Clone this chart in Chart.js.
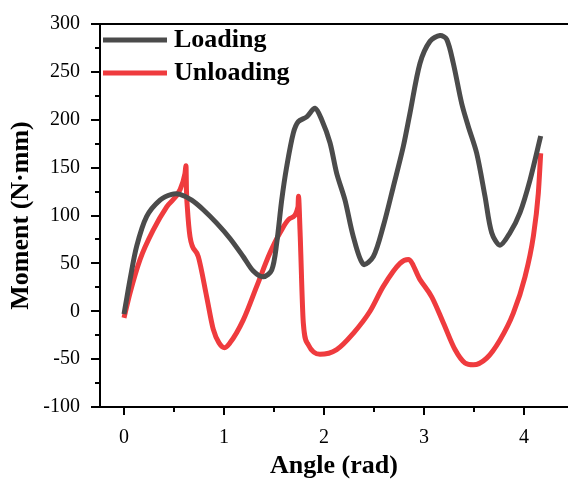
<!DOCTYPE html>
<html>
<head>
<meta charset="utf-8">
<script src="https://cdn.jsdelivr.net/npm/chart.js@4.4.1/dist/chart.umd.min.js"></script>
<style>
html,body{margin:0;padding:0;background:#fff;}
#wrap{width:568px;height:480px;position:relative;}
</style>
</head>
<body>
<div id="wrap"><canvas id="c" width="568" height="480"></canvas></div>
<script>
// ---- data ----
const loadingAngle  = [0,0.03,0.06,0.127,0.227,0.36,0.477,0.56,0.677,0.793,0.927,1.06,1.193,1.293,1.393,1.477,1.527,1.577,1.627,1.693,1.743,1.827,1.91,1.977,2.06,2.127,2.21,2.293,2.393,2.493,2.593,2.693,2.793,2.86,2.96,3.06,3.16,3.227,3.293,3.377,3.443,3.527,3.61,3.677,3.76,3.86,3.96,4.06,4.167];
const loadingMoment = [-3,15,33,68,99,116,122,122,116,106,92,76,57,42,36,43,71,116,151,186,198,203,212,200,176,144,116,78,49,57,89,130,172,207,259,282,288,284,259,217,193,165,120,82,69,82,103,137,183];
const unloadingAngle  = [0,0.06,0.16,0.293,0.427,0.56,0.61,0.62,0.625,0.633,0.66,0.743,0.827,0.893,0.95,1.007,1.06,1.193,1.327,1.46,1.56,1.66,1.74,1.745,1.76,1.793,1.843,1.96,2.127,2.293,2.46,2.593,2.76,2.843,2.96,3.077,3.193,3.31,3.41,3.493,3.627,3.76,3.893,4.01,4.093,4.143,4.167];
const unloadingMoment = [-7,19,54,85,109,127,144,152,125,109,78,57,15,-19,-33,-38,-33,-9,26,61,82,97,109,120,85,-12,-35,-45,-40,-23,0,26,50,54,33,15,-12,-40,-54,-56,-49,-30,-2,36,78,123,165];
const seriesLabels = ['Loading','Unloading'];
const xTicks = [0,1,2,3,4];
const xMinorTicks = [0.5,1.5,2.5,3.5];
const yTicks = [-100,-50,0,50,100,150,200,250,300];
const yMinorTicks = [-75,-25,25,75,125,175,225,275];
const xTitle = 'Angle (rad)';
const yTitle = 'Moment (N·mm)';

const COL_LOAD = '#4b4b4b';
const COL_UNLOAD = '#ef3b3e';
const SERIF = '"Liberation Serif","Times New Roman",serif';

const toPts = (xs, ys) => xs.map((x, i) => ({x, y: ys[i]}));

const ticksPlugin = {
  id: 'ticksAndFrame',
  afterDraw(chart) {
    const ctx = chart.ctx, xs = chart.scales.x, ys = chart.scales.y, a = chart.chartArea;
    ctx.save();
    ctx.strokeStyle = '#000';
    ctx.lineWidth = 2;
    ctx.lineCap = 'butt';
    ctx.beginPath(); ctx.moveTo(a.left - 1, a.top); ctx.lineTo(a.right, a.top); ctx.stroke();
    const xt = (vals, len) => vals.forEach(v => {
      const px = Math.round(xs.getPixelForValue(v));
      ctx.beginPath(); ctx.moveTo(px, a.bottom); ctx.lineTo(px, a.bottom + len); ctx.stroke();
    });
    const yt = (vals, len) => vals.forEach(v => {
      const py = Math.round(ys.getPixelForValue(v));
      ctx.beginPath(); ctx.moveTo(a.left, py); ctx.lineTo(a.left - len, py); ctx.stroke();
    });
    xt(xTicks, 8); xt(xMinorTicks, 5);
    yt(yTicks, 9); yt(yMinorTicks, 5);
    const items = [
      {label: chart.data.datasets[0].label, color: COL_LOAD, y: 40},
      {label: chart.data.datasets[1].label, color: COL_UNLOAD, y: 73}
    ];
    ctx.font = 'bold 26px ' + SERIF;
    ctx.textBaseline = 'middle';
    ctx.textAlign = 'left';
    items.forEach(it => {
      ctx.strokeStyle = it.color; ctx.lineWidth = 5;
      ctx.beginPath(); ctx.moveTo(103, it.y); ctx.lineTo(167, it.y); ctx.stroke();
      ctx.fillStyle = '#000';
      ctx.fillText(it.label, 174, it.y + 0.5);
    });
    ctx.restore();
  }
};

new Chart(document.getElementById('c'), {
  type: 'line',
  data: {
    datasets: [
      {label: seriesLabels[0], data: toPts(loadingAngle, loadingMoment), borderColor: COL_LOAD, backgroundColor: COL_LOAD, borderWidth: 5, pointRadius: 0, tension: 0.3, fill: false},
      {label: seriesLabels[1], data: toPts(unloadingAngle, unloadingMoment), borderColor: COL_UNLOAD, backgroundColor: COL_UNLOAD, borderWidth: 5, pointRadius: 0, cubicInterpolationMode: 'monotone', fill: false}
    ]
  },
  options: {
    responsive: false,
    animation: false,
    events: [],
    layout: {padding: {left: 0, top: 24, right: 0, bottom: 0}},
    plugins: {legend: {display: false}, tooltip: {enabled: false}},
    scales: {
      x: {
        type: 'linear', min: -0.24, max: 4.44,
        afterBuildTicks: s => { s.ticks = xTicks.map(v => ({value: v})); },
        afterFit: s => { s.height = 73; s.paddingLeft = 0; s.paddingRight = 0; },
        grid: {display: false, drawTicks: false},
        border: {display: true, color: '#000', width: 2},
        ticks: {color: '#000', font: {family: SERIF, size: 20}, padding: 19, maxRotation: 0, autoSkip: false},
        title: {display: true, text: xTitle, color: '#000', font: {family: SERIF, size: 26, weight: 'bold'}, padding: {top: 0, bottom: -2}}
      },
      y: {
        type: 'linear', min: -100, max: 300,
        afterBuildTicks: s => { s.ticks = yTicks.map(v => ({value: v})); },
        afterFit: s => { s.width = 100; s.paddingTop = 0; s.paddingBottom = 0; },
        grid: {display: false, drawTicks: false},
        border: {display: true, color: '#000', width: 2},
        ticks: {color: '#000', font: {family: SERIF, size: 20}, padding: 20, autoSkip: false},
        title: {display: true, text: yTitle, color: '#000', font: {family: SERIF, size: 26, weight: 'bold'}, padding: {top: 6, bottom: 0}}
      }
    }
  },
  plugins: [ticksPlugin]
});
</script>
</body>
</html>
